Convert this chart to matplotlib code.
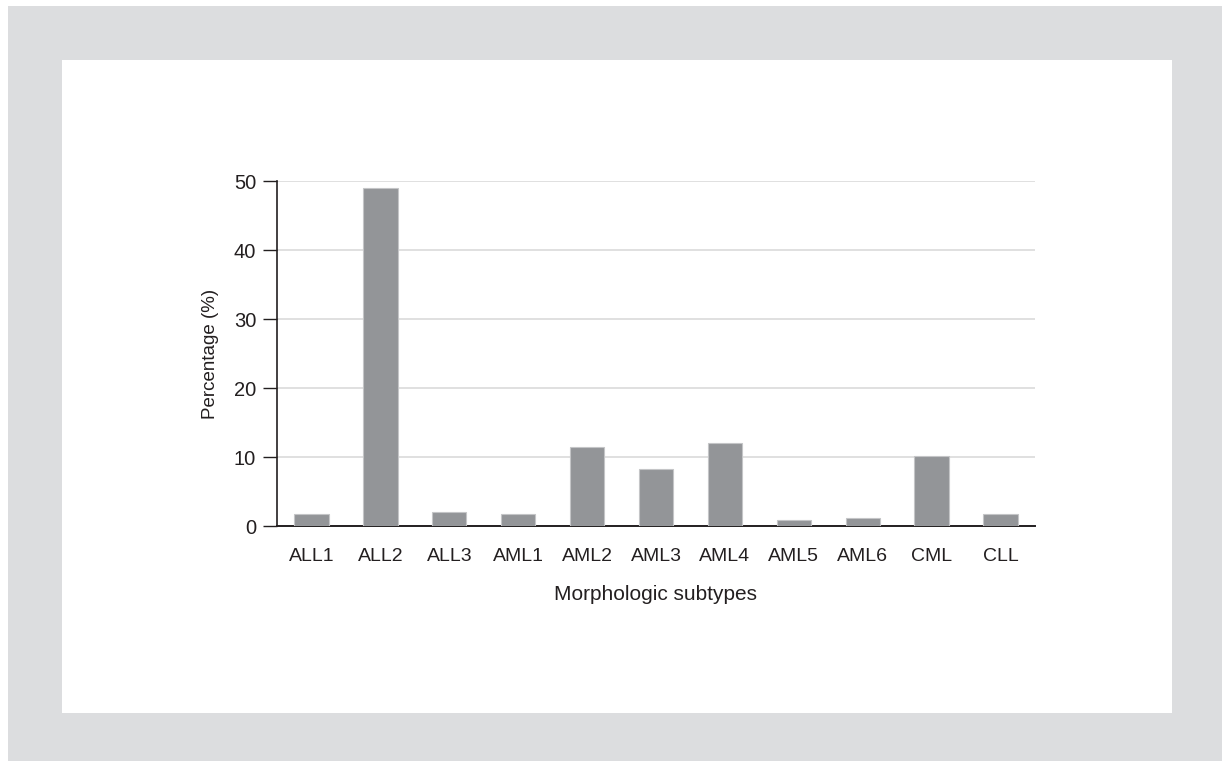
import matplotlib
matplotlib.use("Agg")
import matplotlib.pyplot as plt
from matplotlib.patches import Rectangle

categories = ["ALL1", "ALL2", "ALL3", "AML1", "AML2", "AML3", "AML4", "AML5", "AML6", "CML", "CLL"]
percentages = [1.7, 49.0, 2.1, 1.7, 11.4, 8.2, 12.1, 0.9, 1.1, 10.2, 1.7]
yticks = [0, 10, 20, 30, 40, 50]

plt.rcParams['font.family'] = ['Liberation Sans', 'DejaVu Sans']

W, H = 1222, 761
fig = plt.figure(figsize=(W / 100, H / 100), dpi=100)
fig.patch.set_facecolor('white')
fig.patches.append(Rectangle((8 / W, 0), 1 - 8 / W, 1 - 6 / H, transform=fig.transFigure,
                             facecolor='#dcdddf', edgecolor='none', zorder=-2))
fig.patches.append(Rectangle((62 / W, 1 - 712.5 / H), (1172 - 62) / W, (712.5 - 60) / H,
                             transform=fig.transFigure, facecolor='white', edgecolor='none', zorder=-1))

ax = fig.add_axes([277 / W, 1 - 526 / H, (1035 - 277) / W, (526 - 181) / H])
ax.set_facecolor('none')
x = list(range(len(categories)))
ax.bar(x, percentages, width=0.5, color='#939598', edgecolor='#c4c5c7', linewidth=0.8, zorder=3)
ax.set_xlim(-0.5, len(categories) - 0.5)
ax.set_ylim(0, 50)
ax.set_yticks(yticks)
ax.set_xticks(x)
ax.set_xticklabels(categories)
ax.yaxis.grid(True, color='#dadada', linewidth=1.2, zorder=0)
ax.set_axisbelow(True)
for s in ['top', 'right']:
    ax.spines[s].set_visible(False)
ax.spines['left'].set_color('#231f20')
ax.spines['bottom'].set_color('#231f20')
ax.spines['left'].set_linewidth(1.2)
ax.spines['bottom'].set_linewidth(1.4)
ax.tick_params(axis='y', direction='out', length=10, width=1, color='#231f20',
               labelsize=14.5, labelcolor='#231f20', pad=5)
ax.tick_params(axis='x', length=0, labelsize=14, labelcolor='#231f20', pad=16)
ax.set_xlabel("Morphologic subtypes", fontsize=15, color='#231f20', labelpad=14)
ax.set_ylabel("Percentage (%)", fontsize=13.5, color='#231f20', labelpad=11)

fig.savefig("out.png", dpi=100)
